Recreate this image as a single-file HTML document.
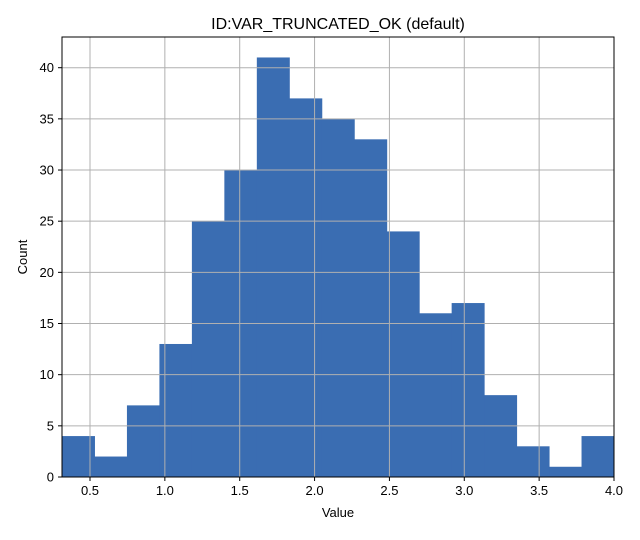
<!DOCTYPE html>
<html><head><meta charset="utf-8"><style>
body{margin:0;background:#fff;font-family:"Liberation Sans","DejaVu Sans",sans-serif;}
svg text{font-family:"Liberation Sans","DejaVu Sans",sans-serif;fill:#000;}
</style></head><body>
<svg id="chart" width="640" height="535" viewBox="0 0 640 535">
<rect width="640" height="535" fill="#fff"/>
<text x="338" y="29" font-size="16" text-anchor="middle">ID:VAR_TRUNCATED_OK (default)</text>
<g id="bars"></g><g id="grid"></g><g id="axes"></g>
<text x="338" y="517" font-size="13" text-anchor="middle">Value</text>
<text x="27" y="257" font-size="13" text-anchor="middle" transform="rotate(-90 27 257)">Count</text>
</svg>
<script>
const counts=[4,2,7,13,25,30,41,37,35,33,24,16,17,8,3,1,4];
const binMin=0.313, binMax=4.0;
const xTicks=[0.5,1.0,1.5,2.0,2.5,3.0,3.5,4.0];
const xTickLabels=["0.5","1.0","1.5","2.0","2.5","3.0","3.5","4.0"];
const yTicks=[0,5,10,15,20,25,30,35,40];
const L=62,R=614,T=37,B=477,xMin=0.313,xMax=4.0,yMax=43.0;
const sx=v=>L+(v-xMin)/(xMax-xMin)*(R-L);
const sy=v=>B-v/yMax*(B-T);
const NS="http://www.w3.org/2000/svg";
function mk(tag,attrs,parent){const e=document.createElementNS(NS,tag);for(const k in attrs)e.setAttribute(k,attrs[k]);parent.appendChild(e);return e;}
const bars=document.getElementById('bars'),grid=document.getElementById('grid'),axes=document.getElementById('axes');
const w=(binMax-binMin)/counts.length;
counts.forEach((c,i)=>{
  const x0=sx(binMin+i*w),x1=sx(binMin+(i+1)*w);
  const r=mk('rect',{x:x0,y:sy(c),width:x1-x0+0.5,height:B-sy(c),fill:'#3a6db2'},bars);
  
  
});
xTicks.forEach((t,i)=>{
  const x=sx(t);
  const g=mk('line',{x1:x,x2:x,y1:T,y2:B,stroke:'#b0b0b0','stroke-width':1},grid);
  
  
  mk('line',{x1:x,x2:x,y1:B,y2:B+4,stroke:'#000'},axes);
  const tx=mk('text',{x:x,y:B+18,'font-size':13,'text-anchor':'middle'},axes);
  tx.textContent=xTickLabels[i];
  
  
});
yTicks.forEach(t=>{
  const y=sy(t);
  const g=mk('line',{x1:L,x2:R,y1:y,y2:y,stroke:'#b0b0b0','stroke-width':1},grid);
  
  
  mk('line',{x1:L-4,x2:L,y1:y,y2:y,stroke:'#000'},axes);
  const tx=mk('text',{x:L-8,y:y+4.5,'font-size':13,'text-anchor':'end'},axes);
  tx.textContent=String(t);
  
  
});
const f=mk('rect',{x:L,y:T,width:R-L,height:B-T,fill:'none',stroke:'#000','stroke-width':1},axes);


</script>
</body></html>
